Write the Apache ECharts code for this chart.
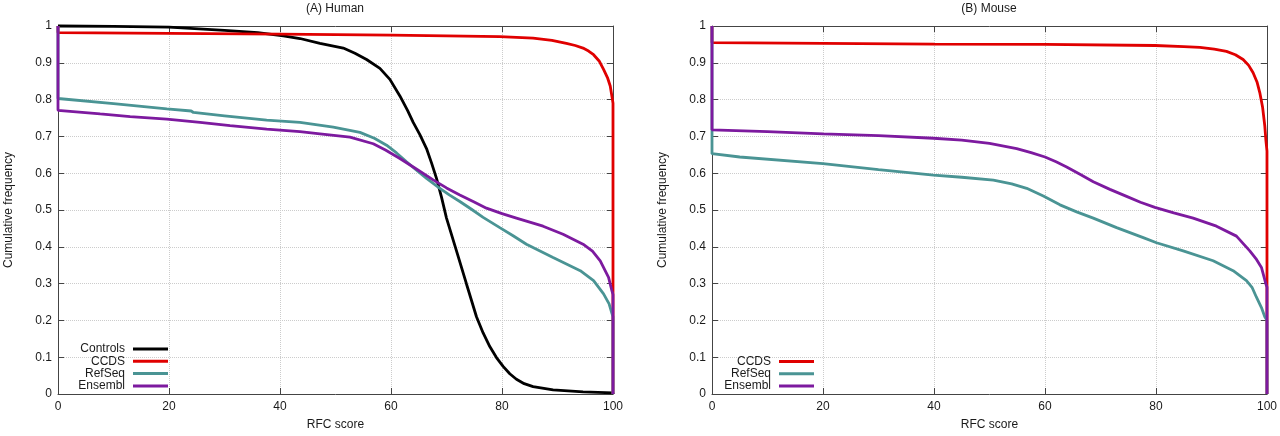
<!DOCTYPE html>
<html>
<head>
<meta charset="utf-8">
<title>RFC score cumulative frequency</title>
<script src="https://cdn.jsdelivr.net/npm/echarts@6.0.0/dist/echarts.min.js"></script>
<style>
  html, body { margin: 0; padding: 0; background: #fff; }
  #chart { width: 1280px; height: 436px; }
</style>
</head>
<body>
<div id="chart"></div>
<script>
// (A) Human
const humanControlsX = [0, 10, 20, 30, 36, 40.6, 43.6, 47.2, 51.4, 53.5, 55.6, 58, 59.8, 61.6, 63, 64, 65.2, 66.4, 67.3, 68.2, 69.1, 70, 71.8, 73.6, 75.4, 76.6, 77.8, 79, 80.2, 81.4, 82.6, 84, 85.6, 89.2, 94.6, 100, 100];
const humanControlsY = [1, 0.999, 0.997, 0.988, 0.982, 0.973, 0.966, 0.953, 0.94, 0.926, 0.909, 0.885, 0.855, 0.81, 0.77, 0.738, 0.705, 0.667, 0.628, 0.586, 0.535, 0.478, 0.389, 0.299, 0.21, 0.166, 0.129, 0.099, 0.075, 0.055, 0.04, 0.028, 0.02, 0.011, 0.006, 0.003, 0];

const humanCcdsX = [0, 0, 20, 40, 60, 70, 79.6, 85.6, 89, 91.6, 93.2, 94.6, 95.6, 96.5, 97.5, 98.3, 99, 99.5, 99.9, 100, 100];
const humanCcdsY = [1, 0.982, 0.98, 0.978, 0.975, 0.973, 0.971, 0.967, 0.961, 0.953, 0.947, 0.94, 0.932, 0.922, 0.905, 0.882, 0.86, 0.837, 0.8, 0.79, 0];

const humanRefseqX = [0, 0, 10, 19.6, 24, 24.4, 30, 37.6, 43.6, 49.6, 54.4, 57, 59.2, 61, 62.8, 64.6, 66.4, 68.8, 70.5, 72.4, 74.5, 76.6, 79.6, 82, 84.4, 89.2, 94.1, 96.5, 98.3, 99.3, 99.8, 100, 100];
const humanRefseqY = [1, 0.803, 0.789, 0.775, 0.769, 0.765, 0.756, 0.744, 0.738, 0.725, 0.711, 0.695, 0.676, 0.655, 0.631, 0.608, 0.586, 0.559, 0.541, 0.523, 0.502, 0.48, 0.452, 0.43, 0.407, 0.371, 0.335, 0.308, 0.272, 0.245, 0.219, 0.21, 0];

const humanEnsemblX = [0, 0, 7.6, 13, 19.6, 25.6, 31, 37.6, 43.6, 47.2, 52.6, 56.8, 59, 61.6, 64.5, 67.6, 70, 72.4, 74.8, 77.2, 80, 82.6, 87.4, 91, 94.6, 96.3, 97.7, 99.2, 99.8, 100, 100];
const humanEnsemblY = [1, 0.771, 0.761, 0.754, 0.747, 0.738, 0.729, 0.72, 0.713, 0.707, 0.698, 0.68, 0.663, 0.64, 0.612, 0.582, 0.56, 0.541, 0.523, 0.505, 0.49, 0.478, 0.456, 0.434, 0.407, 0.388, 0.362, 0.317, 0.281, 0.27, 0];

// (B) Mouse
const mouseCcdsX = [0, 0, 20, 40, 60, 79.8, 85, 87.9, 90.5, 92.7, 94.3, 95.7, 96.7, 97.5, 98.2, 98.7, 99.2, 99.6, 99.8, 100, 100];
const mouseCcdsY = [1, 0.955, 0.953, 0.951, 0.95, 0.947, 0.944, 0.942, 0.937, 0.931, 0.922, 0.909, 0.893, 0.873, 0.848, 0.819, 0.78, 0.729, 0.69, 0.66, 0];

const mouseRefseqX = [0, 0, 5, 20, 30, 39.9, 45, 50.7, 54, 56.7, 59.7, 62.7, 65.7, 68.7, 72.9, 77.7, 80.1, 84.9, 90.3, 93.9, 96.3, 97.3, 98.1, 99, 99.6, 100, 100];
const mouseRefseqY = [1, 0.653, 0.644, 0.626, 0.61, 0.595, 0.589, 0.581, 0.571, 0.559, 0.538, 0.514, 0.495, 0.478, 0.452, 0.425, 0.411, 0.389, 0.362, 0.335, 0.308, 0.29, 0.263, 0.235, 0.21, 0.2, 0];

const mouseEnsemblX = [0, 0, 10, 20, 30, 39.9, 45, 50, 54.9, 57.5, 60, 62, 63.9, 66.3, 68.7, 71.7, 74.7, 77.2, 79.8, 83.2, 86.7, 90.9, 94.5, 96.9, 98, 99, 99.8, 100, 100];
const mouseEnsemblY = [1, 0.718, 0.713, 0.707, 0.702, 0.695, 0.69, 0.681, 0.667, 0.656, 0.644, 0.631, 0.617, 0.597, 0.577, 0.556, 0.537, 0.521, 0.507, 0.492, 0.478, 0.456, 0.429, 0.389, 0.368, 0.344, 0.299, 0.29, 0];

const xTicks = { min: 0, max: 100, interval: 20 };
const yTicks = { min: 0, max: 1, interval: 0.1 };

const colors = {
  Controls: '#000000',
  CCDS: '#e00000',
  RefSeq: '#4a9494',
  Ensembl: '#7d1a9f'
};

const FONT = '"Liberation Sans", Arial, sans-serif';
const TEXT = '#1a1a1a';
const AXIS = '#444';
const FS = 12;

const pairs = (xs, ys) => xs.map((x, i) => [x, ys[i]]);

function makeSeries(name, grid, xs, ys) {
  return {
    name: name,
    type: 'line',
    xAxisIndex: grid * 2,
    yAxisIndex: grid * 2,
    data: pairs(xs, ys),
    showSymbol: false,
    symbol: 'none',
    clip: false,
    color: colors[name],
    lineStyle: { width: 2.8, color: colors[name] },
    animation: false
  };
}

function xAxes(grid) {
  const base = {
    gridIndex: grid,
    type: 'value',
    min: xTicks.min,
    max: xTicks.max,
    interval: xTicks.interval,
    axisLine: { show: true, onZero: false, lineStyle: { color: AXIS, width: 1 } },
    axisTick: { show: true, inside: true, length: 6, lineStyle: { color: AXIS } }
  };
  return [
    Object.assign({}, base, {
      position: 'bottom',
      axisLabel: { color: TEXT, fontSize: FS, fontFamily: FONT, margin: 7 },
      splitLine: { show: true, lineStyle: { type: 'dotted', color: '#cccccc' } },
      name: 'RFC score',
      nameLocation: 'middle',
      nameGap: 25,
      nameTextStyle: { color: TEXT, fontSize: FS, fontFamily: FONT }
    }),
    Object.assign({}, base, {
      position: 'top',
      axisLabel: { show: false },
      splitLine: { show: false }
    })
  ];
}

function yAxes(grid) {
  const base = {
    gridIndex: grid,
    type: 'value',
    min: yTicks.min,
    max: yTicks.max,
    interval: yTicks.interval,
    axisLine: { show: true, onZero: false, lineStyle: { color: AXIS, width: 1 } },
    axisTick: { show: true, inside: true, length: 6, lineStyle: { color: AXIS } }
  };
  return [
    Object.assign({}, base, {
      position: 'left',
      axisLabel: { color: TEXT, fontSize: FS, fontFamily: FONT, margin: 6 },
      splitLine: { show: true, lineStyle: { type: 'dotted', color: '#cccccc' } },
      name: 'Cumulative frequency',
      nameLocation: 'middle',
      nameGap: 43,
      nameTextStyle: { color: TEXT, fontSize: FS, fontFamily: FONT }
    }),
    Object.assign({}, base, {
      position: 'right',
      axisLabel: { show: false },
      splitLine: { show: false }
    })
  ];
}

function legend(names, right, top) {
  return {
    data: names,
    orient: 'vertical',
    align: 'right',
    right: right,
    top: top,
    padding: 0,
    itemGap: 0.3,
    itemWidth: 35,
    itemHeight: 3,
    icon: 'rect',
    selectedMode: false,
    textStyle: { color: TEXT, fontSize: FS, fontFamily: FONT, lineHeight: 12, padding: [0, 3, 0, 0] }
  };
}

const chart = echarts.init(document.getElementById('chart'), null, { renderer: 'canvas' });

chart.setOption({
  backgroundColor: '#fff',
  animation: false,
  textStyle: { fontFamily: FONT },
  title: [
    { text: '(A) Human', left: 335, top: 3, textAlign: 'center', padding: 0,
      textStyle: { fontSize: FS, fontWeight: 'normal', color: TEXT, fontFamily: FONT } },
    { text: '(B) Mouse', left: 989, top: 3, textAlign: 'center', padding: 0,
      textStyle: { fontSize: FS, fontWeight: 'normal', color: TEXT, fontFamily: FONT } }
  ],
  grid: [
    { left: 58, right: 667, top: 26, bottom: 38, containLabel: false },
    { left: 712, right: 13, top: 26, bottom: 38, containLabel: false }
  ],
  legend: [
    legend(['Controls', 'CCDS', 'RefSeq', 'Ensembl'], 1280 - 168, 343),
    legend(['CCDS', 'RefSeq', 'Ensembl'], 1280 - 814, 355.5)
  ],
  xAxis: xAxes(0).concat(xAxes(1)),
  yAxis: yAxes(0).concat(yAxes(1)),
  series: [
    makeSeries('Controls', 0, humanControlsX, humanControlsY),
    makeSeries('CCDS', 0, humanCcdsX, humanCcdsY),
    makeSeries('RefSeq', 0, humanRefseqX, humanRefseqY),
    makeSeries('Ensembl', 0, humanEnsemblX, humanEnsemblY),
    makeSeries('CCDS', 1, mouseCcdsX, mouseCcdsY),
    makeSeries('RefSeq', 1, mouseRefseqX, mouseRefseqY),
    makeSeries('Ensembl', 1, mouseEnsemblX, mouseEnsemblY)
  ]
});
</script>
</body>
</html>
